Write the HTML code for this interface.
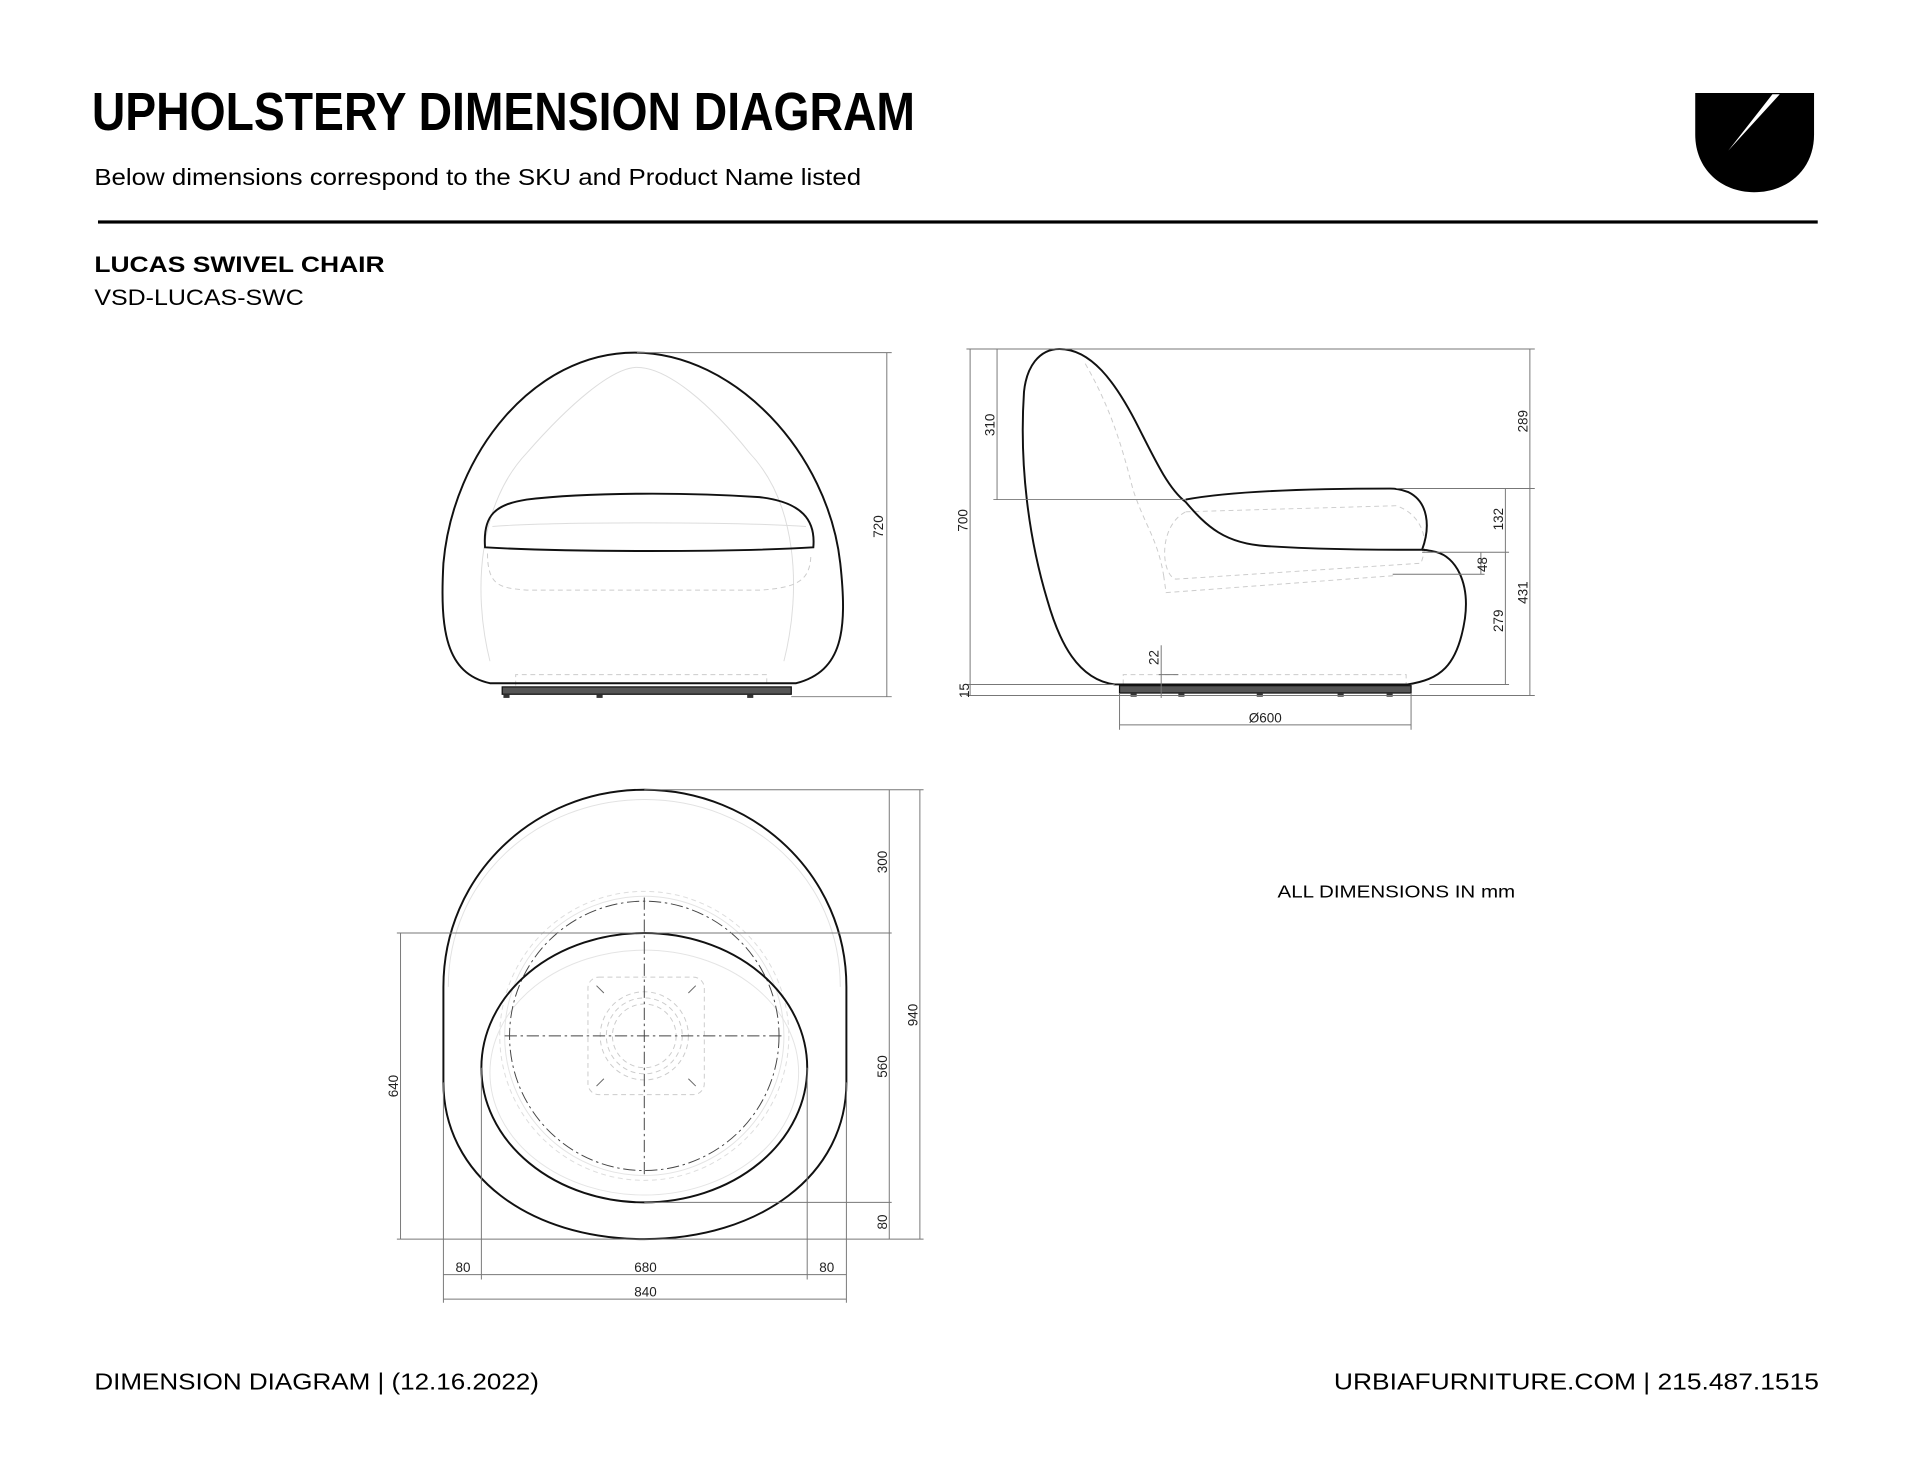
<!DOCTYPE html>
<html><head><meta charset="utf-8"><style>
html,body{margin:0;padding:0;background:#fff;}
svg{display:block;}
text{font-family:"Liberation Sans",sans-serif;}
.d{font-size:11px;fill:#222;}
</style></head><body>
<svg width="1920" height="1484" viewBox="0 0 1567.5 1212" preserveAspectRatio="none" xmlns="http://www.w3.org/2000/svg">
<rect width="1567.5" height="1212" fill="#fff"/>
<!-- header -->
<text x="75" y="106" font-family="Liberation Sans Narrow, Liberation Sans, sans-serif" font-weight="bold" font-size="44" textLength="672" lengthAdjust="spacingAndGlyphs">UPHOLSTERY DIMENSION DIAGRAM</text>
<text x="77" y="151" font-size="19" textLength="626" lengthAdjust="spacingAndGlyphs">Below dimensions correspond to the SKU and Product Name listed</text>
<rect x="80" y="180" width="1404" height="2.6" fill="#000"/>
<text x="77" y="222" font-size="18" font-weight="bold" textLength="237" lengthAdjust="spacingAndGlyphs">LUCAS SWIVEL CHAIR</text>
<text x="77" y="249" font-size="18" textLength="171" lengthAdjust="spacingAndGlyphs">VSD-LUCAS-SWC</text>
<!-- logo -->
<path d="M1384,76 L1481,76 L1481,110 C1481,138 1460,157 1432,157 C1405,157 1384,138 1384,110 Z" fill="#000"/>
<path d="M1447,77 L1453,77 L1411,123 Z" fill="#fff"/>
<!-- footer -->
<text x="77" y="1135" font-size="19" textLength="363" lengthAdjust="spacingAndGlyphs">DIMENSION DIAGRAM | (12.16.2022)</text>
<text x="1485" y="1135" font-size="19" text-anchor="end" textLength="396" lengthAdjust="spacingAndGlyphs">URBIAFURNITURE.COM  |  215.487.1515</text>
<text x="1043" y="733" font-size="14" textLength="194" lengthAdjust="spacingAndGlyphs">ALL DIMENSIONS IN mm</text>

<!-- FRONT VIEW -->
<g fill="none">
<path d="M400,540 C385,480 392,410 430,370 C465,330 500,300 520,300" stroke="#ddd" stroke-width="0.8"/>
<path d="M640,540 C655,480 650,410 612,370 C580,330 545,300 520,300" stroke="#ddd" stroke-width="0.8"/>
<path d="M398,452 C398,480 410,480 430,482 L620,482 C650,480 662,475 662,452" stroke="#ccc" stroke-width="0.8" stroke-dasharray="4,3"/>
<path d="M421,560 L421,551 L626,551 L626,560" stroke="#ccc" stroke-width="0.8" stroke-dasharray="4,3"/>
<path d="M518,288 C600,288 676,370 686,460 C692,515 688,548 650,558 L400,558 C364,550 359,515 362,460 C370,370 436,288 518,288 Z" stroke="#111" stroke-width="1.6"/>
<path d="M396,447 C394,420 405,412 430,408 C480,402 560,402 620,406 C655,410 666,425 664,447 C600,451 460,451 396,447 Z" stroke="#111" stroke-width="1.6"/>
<path d="M402,430 C450,426 600,426 658,430" stroke="#ddd" stroke-width="0.8"/>
<rect x="410" y="561" width="236" height="6" fill="#555" stroke="#111" stroke-width="1"/>
</g>
<rect x="411" y="567" width="5" height="3" fill="#333"/><rect x="487" y="567" width="5" height="3" fill="#333"/><rect x="610" y="567" width="5" height="3" fill="#333"/>
<g stroke="#777" stroke-width="0.8" fill="none">
<line x1="520" y1="288" x2="728" y2="288"/><line x1="646" y1="569" x2="728" y2="569"/><line x1="724" y1="288" x2="724" y2="569"/>
</g>
<text class="d" transform="translate(721,430) rotate(-90)" text-anchor="middle">720</text>

<!-- SIDE VIEW -->
<g fill="none">
<path d="M886,297 C905,330 915,360 925,400 C935,430 945,440 950,470" stroke="#ccc" stroke-width="0.8" stroke-dasharray="4,3"/>
<path d="M968,418 L1140,413 C1160,420 1168,440 1160,460 L960,473 C948,470 945,430 968,418 Z" stroke="#ccc" stroke-width="0.8" stroke-dasharray="4,3"/>
<path d="M950,470 L952,484 L1140,470" stroke="#ccc" stroke-width="0.8" stroke-dasharray="4,3"/>
<path d="M917,559 L917,551 L1148,551 L1148,559" stroke="#ccc" stroke-width="0.8" stroke-dasharray="4,3"/>
<path d="M865,285 C848,285 838,300 836,320 C832,380 840,440 855,490 C865,525 880,555 910,559 L1149,559 C1175,555 1190,545 1196,505 C1200,475 1188,455 1173,451 C1170,450 1163,449 1161,449" stroke="#111" stroke-width="1.6"/>
<path d="M865,285 C890,285 910,310 930,350 C945,380 955,400 968,410 C985,430 1000,444 1034,446 C1080,449 1130,449 1161,449 C1168,430 1166,410 1150,402 C1145,400 1140,399 1135,399 C1060,399 1000,402 968,408" stroke="#111" stroke-width="1.6"/>
<rect x="914" y="560" width="238" height="6" fill="#555" stroke="#111" stroke-width="1"/>
</g>
<rect x="923" y="566" width="5" height="3" fill="#333"/><rect x="962" y="566" width="5" height="3" fill="#333"/><rect x="1026" y="566" width="5" height="3" fill="#333"/><rect x="1092" y="566" width="5" height="3" fill="#333"/><rect x="1132" y="566" width="5" height="3" fill="#333"/>
<g stroke="#777" stroke-width="0.8" fill="none">
<line x1="789" y1="285" x2="1253" y2="285"/>
<line x1="792" y1="285" x2="792" y2="568"/>
<line x1="789" y1="559" x2="910" y2="559"/>
<line x1="789" y1="568" x2="1253" y2="568"/>
<line x1="814" y1="285" x2="814" y2="408"/>
<line x1="811" y1="408" x2="968" y2="408"/>
<line x1="1249" y1="285" x2="1249" y2="568"/>
<line x1="1140" y1="399" x2="1253" y2="399"/>
<line x1="1229" y1="399" x2="1229" y2="559"/>
<line x1="1161" y1="451" x2="1232" y2="451"/>
<line x1="1209" y1="451" x2="1209" y2="469"/>
<line x1="1137" y1="469" x2="1212" y2="469"/>
<line x1="1167" y1="559" x2="1232" y2="559"/>
<line x1="948" y1="527" x2="948" y2="570"/>
<line x1="946" y1="551" x2="962" y2="551"/>
<line x1="914" y1="566" x2="914" y2="596"/>
<line x1="1152" y1="566" x2="1152" y2="596"/>
<line x1="914" y1="592" x2="1152" y2="592"/>
</g>
<text class="d" transform="translate(790,425) rotate(-90)" text-anchor="middle">700</text>
<text class="d" transform="translate(812,347) rotate(-90)" text-anchor="middle">310</text>
<text class="d" transform="translate(791,564) rotate(-90)" text-anchor="middle">15</text>
<text class="d" transform="translate(1247,344) rotate(-90)" text-anchor="middle">289</text>
<text class="d" transform="translate(1247,484) rotate(-90)" text-anchor="middle">431</text>
<text class="d" transform="translate(1227,424) rotate(-90)" text-anchor="middle">132</text>
<text class="d" transform="translate(1214,461) rotate(-90)" text-anchor="middle">48</text>
<text class="d" transform="translate(1227,507) rotate(-90)" text-anchor="middle">279</text>
<text class="d" transform="translate(946,537) rotate(-90)" text-anchor="middle">22</text>
<text class="d" x="1033" y="590" text-anchor="middle">Ø600</text>

<!-- TOP VIEW -->
<g fill="none">
<path d="M366,806 C366,718 438,653 526,653 C614,653 686,718 686,806" stroke="#e2e2e2" stroke-width="0.8"/>
<circle cx="526" cy="846" r="118" stroke="#ddd" stroke-width="0.8" stroke-dasharray="4,3"/>
<circle cx="526" cy="846" r="114" stroke="#e4e4e4" stroke-width="0.8"/>
<ellipse cx="526" cy="876" rx="126" ry="100" stroke="#e4e4e4" stroke-width="0.8"/>
<circle cx="526" cy="846" r="110" stroke="#444" stroke-width="0.8" stroke-dasharray="10,3,2,3"/>
<rect x="480" y="798" width="95" height="96" rx="9" stroke="#ccc" stroke-width="0.8" stroke-dasharray="4,3"/>
<circle cx="526" cy="846" r="36" stroke="#ccc" stroke-width="0.8" stroke-dasharray="4,3"/>
<circle cx="526" cy="846" r="31" stroke="#ccc" stroke-width="0.8" stroke-dasharray="4,3"/>
<circle cx="526" cy="846" r="26" stroke="#ccc" stroke-width="0.8" stroke-dasharray="4,3"/>
<g stroke="#666" stroke-width="0.8"><line x1="487" y1="805" x2="493" y2="811"/><line x1="568" y1="805" x2="562" y2="811"/><line x1="487" y1="887" x2="493" y2="881"/><line x1="568" y1="887" x2="562" y2="881"/></g>
<line x1="412" y1="846" x2="641" y2="846" stroke="#444" stroke-width="0.8" stroke-dasharray="10,3,2,3"/>
<line x1="526" y1="733" x2="526" y2="960" stroke="#444" stroke-width="0.8" stroke-dasharray="10,3,2,3"/>
<path d="M362,806 C362,715 436,645 526,645 C616,645 691,715 691,806 L691,884 C691,960 620,1012 526,1012 C432,1012 362,960 362,884 Z" stroke="#111" stroke-width="1.6"/>
<ellipse cx="526" cy="872" rx="133" ry="110" stroke="#111" stroke-width="1.6"/>
</g>
<g stroke="#777" stroke-width="0.8" fill="none">
<line x1="526" y1="645" x2="754" y2="645"/>
<line x1="324" y1="762" x2="728" y2="762"/>
<line x1="526" y1="982" x2="728" y2="982"/>
<line x1="324" y1="1012" x2="754" y2="1012"/>
<line x1="726" y1="645" x2="726" y2="1012"/>
<line x1="751" y1="645" x2="751" y2="1012"/>
<line x1="327" y1="762" x2="327" y2="1012"/>
<line x1="362" y1="884" x2="362" y2="1064"/>
<line x1="393" y1="872" x2="393" y2="1045"/>
<line x1="659" y1="872" x2="659" y2="1045"/>
<line x1="691" y1="884" x2="691" y2="1064"/>
<line x1="362" y1="1041" x2="691" y2="1041"/>
<line x1="362" y1="1061" x2="691" y2="1061"/>
</g>
<text class="d" transform="translate(724,704) rotate(-90)" text-anchor="middle">300</text>
<text class="d" transform="translate(724,871) rotate(-90)" text-anchor="middle">560</text>
<text class="d" transform="translate(724,998) rotate(-90)" text-anchor="middle">80</text>
<text class="d" transform="translate(749,829) rotate(-90)" text-anchor="middle">940</text>
<text class="d" transform="translate(325,887) rotate(-90)" text-anchor="middle">640</text>
<text class="d" x="378" y="1039" text-anchor="middle">80</text>
<text class="d" x="527" y="1039" text-anchor="middle">680</text>
<text class="d" x="675" y="1039" text-anchor="middle">80</text>
<text class="d" x="527" y="1059" text-anchor="middle">840</text>
</svg>
</body></html>
